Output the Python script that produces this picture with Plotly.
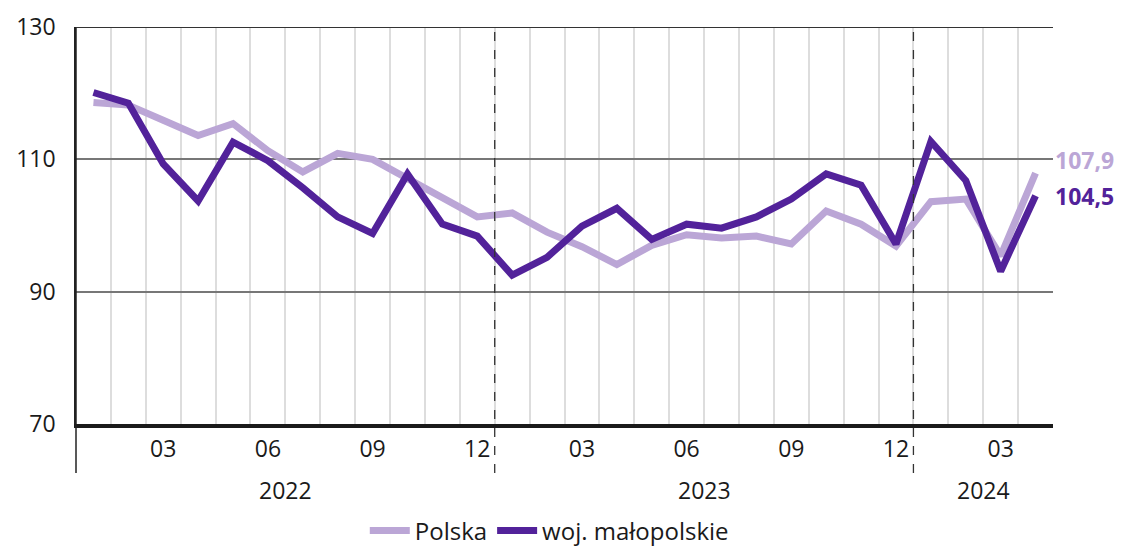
import plotly.graph_objects as go

months = ["01","02","03","04","05","06","07","08","09","10","11","12"] * 2 + ["01","02","03","04"]
years = [2022]*12 + [2023]*12 + [2024]*4
polska = [118.6, 118.2, 115.9, 113.6, 115.4, 111.3, 108.1, 110.9, 110.0, 107.2, 104.3, 101.3,
          101.9, 99.0, 96.8, 94.1, 97.0, 98.6, 98.1, 98.4, 97.2, 102.2, 100.2, 96.9,
          103.6, 104.0, 95.4, 107.9]
malopolska = [120.1, 118.5, 109.3, 103.7, 112.6, 109.8, 105.7, 101.3, 98.8, 107.8, 100.2, 98.4,
              92.5, 95.2, 99.9, 102.6, 97.9, 100.2, 99.6, 101.3, 104.0, 107.8, 106.1, 97.2,
              112.7, 106.8, 93.1, 104.5]
yticks = [70, 90, 110, 130]
end_labels = ["107,9", "104,5"]

LIGHT = "#bba6d6"
DARK = "#52229a"
FONT = "Open Sans"

x = list(range(len(months)))
tickvals = [i for i, m in enumerate(months) if int(m) % 3 == 0]
ticktext = [months[i] for i in tickvals]
boundaries = [i + 0.5 for i in range(len(months) - 1)]
year_breaks = [i + 0.5 for i in range(len(months) - 1) if years[i] != years[i + 1]]

fig = go.Figure()
fig.add_trace(go.Scatter(x=x, y=polska, mode="lines", name="Polska",
                         line=dict(color=LIGHT, width=7)))
fig.add_trace(go.Scatter(x=x, y=malopolska, mode="lines", name="woj. małopolskie",
                         line=dict(color=DARK, width=7)))

PH = 397
below = -49 / PH
shapes = []
for b in year_breaks:
    shapes.append(dict(type="line", xref="x", yref="paper", x0=b, x1=b, y0=below, y1=1,
                       line=dict(color="#333333", width=1.3, dash="dash"), layer="above"))
shapes.append(dict(type="line", xref="paper", yref="paper", x0=0, x1=0, y0=below, y1=1,
                   line=dict(color="#222222", width=1.5), layer="above"))
shapes.append(dict(type="line", xref="paper", yref="y", x0=0, x1=1, y0=yticks[-1], y1=yticks[-1],
                   line=dict(color="#333333", width=2), layer="above"))

annotations = []
for yr in sorted(set(years)):
    idx = [i for i, v in enumerate(years) if v == yr]
    annotations.append(dict(x=(idx[0] + idx[-1]) / 2, y=-66 / PH, xref="x", yref="paper",
                            text=str(yr), showarrow=False, yanchor="middle", xanchor="center",
                            font=dict(family=FONT, size=23, color="#1a1a1a")))
annotations.append(dict(x=1, y=polska[-1], xref="paper", yref="y", text="<b>%s</b>" % end_labels[0],
                        showarrow=False, xanchor="left", yanchor="middle", yshift=13,
                        font=dict(family=FONT, size=23, color=LIGHT)))
annotations.append(dict(x=1, y=malopolska[-1], xref="paper", yref="y", text="<b>%s</b>" % end_labels[1],
                        showarrow=False, xanchor="left", yanchor="middle", yshift=0,
                        font=dict(family=FONT, size=23, color=DARK)))

fig.update_layout(
    width=1121, height=546,
    margin=dict(l=76, r=68, t=27, b=122, autoexpand=False),
    paper_bgcolor="white", plot_bgcolor="white",
    font=dict(family=FONT, size=23, color="#1a1a1a"),
    showlegend=True,
    legend=dict(orientation="h", x=0.49, xanchor="center", y=1 - 531 / 546, yanchor="middle",
                yref="container", xref="container",
                font=dict(family=FONT, size=24, color="#1a1a1a"), itemwidth=40,
                bgcolor="rgba(0,0,0,0)"),
    shapes=shapes,
    annotations=annotations,
)
fig.update_xaxes(range=[-0.5, len(months) - 0.5], tickmode="array", tickvals=tickvals, ticktext=ticktext,
                 showgrid=False, zeroline=False, showline=True, linecolor="#1a1a1a", linewidth=3.5,
                 ticks="outside", ticklen=2, tickcolor="rgba(0,0,0,0)", automargin=False,
                 minor=dict(tickmode="array", tickvals=boundaries, showgrid=True,
                            gridcolor="#dddddd", gridwidth=2.2, ticks=""))
fig.update_yaxes(range=[yticks[0], yticks[-1]], tickmode="array", tickvals=yticks,
                 showgrid=True, gridcolor="#777777", gridwidth=1.5, zeroline=False,
                 showline=True, linecolor="#222222", linewidth=1.5, ticks="", automargin=False,
                 ticklabelstandoff=14)

fig.write_html("out.html", config={"displayModeBar": False},
               post_script="document.body.style.margin='0';document.body.style.overflow='hidden';")
